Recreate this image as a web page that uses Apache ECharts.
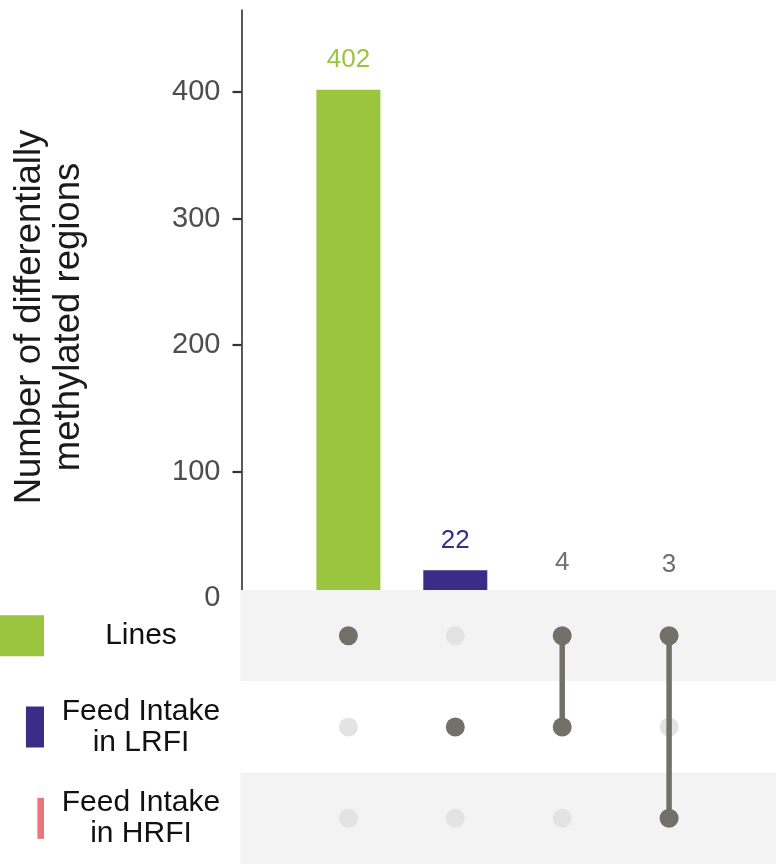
<!DOCTYPE html>
<html>
<head>
<meta charset="utf-8">
<script src="https://cdn.jsdelivr.net/npm/echarts@6/dist/echarts.min.js"></script>
<style>html,body{margin:0;padding:0;background:#fff;}#c{width:776px;height:864px;}</style>
</head>
<body>
<div id="c"></div>
<script>
// ---- data ----
const sets = ['Lines', 'Feed Intake\nin LRFI', 'Feed Intake\nin HRFI'];
const intersectionCounts = [402, 22, 4, 3];
const intersectionMembers = [[0], [1], [0, 1], [0, 2]];
const setBarLengths = [100, 41, 15]; // (axis truncated at left edge)
const yTickValues = [0, 100, 200, 300, 400];
const yTickMarks = [100, 200, 300, 400];
const yTitle = 'Number of differentially\nmethylated regions';

// ---- styles ----
const FONT = '"Liberation Sans", Arial, Helvetica, sans-serif';
const setColors = ['#9BC43F', '#3B2C87', '#E8767A'];
const barColors = ['#9BC43F', '#3B2C87', '#707070', '#707070'];
const labelColors = ['#9BC43F', '#3B2C87', '#707070', '#707070'];
const dotDark = '#71716A';
const dotLight = '#E3E3E3';
const bandColors = ['#F3F3F3', '#FFFFFF'];

const chart = echarts.init(document.getElementById('c'), null, {renderer: 'canvas'});

const barData = intersectionCounts.map((v, i) => ({
  value: [i + 1, v],
  itemStyle: {color: barColors[i]},
  label: {color: labelColors[i]}
}));

const onDots = [], offDots = [];
intersectionMembers.forEach((m, c) => {
  sets.forEach((s, r) => {
    (m.indexOf(r) >= 0 ? onDots : offDots).push([c + 1, r]);
  });
});

const connectorSeries = [];
intersectionMembers.forEach((m, c) => {
  if (m.length > 1) {
    connectorSeries.push({
      type: 'line', xAxisIndex: 1, yAxisIndex: 1,
      data: [[c + 1, Math.min(...m)], [c + 1, Math.max(...m)]],
      showSymbol: false, symbol: 'none',
      lineStyle: {color: dotDark, width: 5.5, cap: 'butt', opacity: 1},
      z: 5, silent: true
    });
  }
});

const option = {
  animation: false,
  backgroundColor: '#fff',
  grid: [
    {left: 241.5, width: 536.5, top: 10, bottom: 265.8},
    {left: 241.5, width: 536.5, top: 590, bottom: 0},
    {left: 0, width: 44, top: 590, bottom: 0}
  ],
  xAxis: [
    {gridIndex: 0, type: 'value', min: 0, max: 5, show: false},
    {gridIndex: 1, type: 'value', min: 0, max: 5, show: false},
    {gridIndex: 2, type: 'value', min: 0, max: 100, inverse: true, show: false}
  ],
  yAxis: [
    {
      gridIndex: 0, type: 'value', min: 0, max: 465,
      axisLine: {show: true, lineStyle: {color: '#222', width: 1.5}},
      axisTick: {show: true, length: 9, customValues: yTickMarks, lineStyle: {color: '#333', width: 2.2}},
      axisLabel: {customValues: yTickValues, margin: 21, fontSize: 29, color: '#4D4D4D', fontFamily: FONT},
      splitLine: {show: false}
    },
    {
      gridIndex: 1, type: 'category', data: sets, inverse: true,
      axisLine: {show: false}, axisTick: {show: false},
      axisLabel: {align: 'center', margin: 100.5, fontSize: 30, lineHeight: 31, color: '#111', fontFamily: FONT},
      splitLine: {show: false}
    },
    {gridIndex: 2, type: 'category', data: sets, inverse: true, show: false}
  ],
  graphic: [{
    type: 'text',
    x: 49, y: 317,
    rotation: Math.PI / 2,
    style: {
      text: yTitle, font: '36.5px ' + FONT, fill: '#1A1A1A',
      textAlign: 'center', textVerticalAlign: 'middle', lineHeight: 39
    },
    z: 10
  }],
  series: [
    {
      type: 'bar', xAxisIndex: 0, yAxisIndex: 0,
      data: barData, barWidth: 64, z: 2,
      label: {
        show: true, position: 'top', distance: 17,
        fontSize: 26, fontFamily: FONT,
        formatter: p => String(p.value[1])
      }
    },
    {
      type: 'custom', xAxisIndex: 1, yAxisIndex: 1, z: 3, silent: true,
      data: sets.map((s, r) => [0, r]),
      encode: {x: 0, y: 1},
      clip: false,
      renderItem: function (params, api) {
        const r = api.value(1);
        const p = api.coord([0, r]);
        const h = api.size([1, 1])[1];
        const cs = params.coordSys;
        return {
          type: 'rect',
          shape: {x: cs.x - 1, y: p[1] - h / 2, width: cs.width + 1, height: h},
          style: {fill: bandColors[r % 2]}
        };
      }
    },
    {
      type: 'scatter', xAxisIndex: 1, yAxisIndex: 1, z: 4,
      data: offDots, symbolSize: 19, itemStyle: {color: dotLight, opacity: 1}, silent: true
    },
    ...connectorSeries,
    {
      type: 'scatter', xAxisIndex: 1, yAxisIndex: 1, z: 6,
      data: onDots, symbolSize: 19, itemStyle: {color: dotDark, opacity: 1}, silent: true
    },
    {
      type: 'bar', xAxisIndex: 2, yAxisIndex: 2, barWidth: 41,
      data: setBarLengths.map((v, i) => ({value: v, itemStyle: {color: setColors[i]}})),
      silent: true
    }
  ]
};
chart.setOption(option);
</script>
</body>
</html>
